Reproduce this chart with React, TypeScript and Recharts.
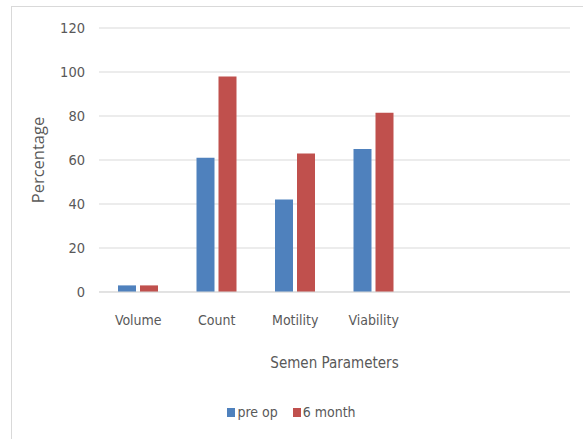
import React from 'react';
import { BarChart, Bar, XAxis, YAxis, CartesianGrid, Legend, Label } from 'recharts';

// Semen parameter categories (the last two slots are intentionally empty)
const categories = ['Volume', 'Count', 'Motility', 'Viability', '', ''];
const preOp = [3, 61, 42, 65, null, null];
const sixMonth = [3, 98, 63, 81.5, null, null];
const yTicks = [0, 20, 40, 60, 80, 100, 120];

const data = categories.map((name, i) => ({
  name,
  preOp: preOp[i],
  sixMonth: sixMonth[i],
}));

const BLUE = '#4F81BD';
const RED = '#C0504D';
const TEXT = '#595959';
const NARROW = '"Liberation Sans Narrow", "DejaVu Sans Condensed", "Open Sans", sans-serif';

const legendItems = [
  { label: 'pre op', color: BLUE },
  { label: '6 month', color: RED },
];

const LegendContent = () => (
  <div
    style={{
      display: 'flex',
      justifyContent: 'center',
      alignItems: 'center',
      fontFamily: NARROW,
      fontSize: 14,
      color: TEXT,
      paddingLeft: 0,
    }}
  >
    {legendItems.map((it, i) => (
      <span
        key={it.label}
        style={{ display: 'inline-flex', alignItems: 'center', marginLeft: i === 0 ? 0 : 15 }}
      >
        <span
          style={{ display: 'inline-block', width: 8, height: 9, background: it.color, marginRight: 2 }}
        />
        {it.label}
      </span>
    ))}
  </div>
);

const YLabel = (props: any) => {
  const vb = props.viewBox || {};
  const cx = 37;
  const cy = vb.y + vb.height / 2;
  return (
    <text
      x={cx}
      y={cy}
      transform={`rotate(-90, ${cx}, ${cy})`}
      textAnchor="middle"
      dominantBaseline="central"
      fill={TEXT}
      fontSize={16.5}
      fontFamily='"Open Sans", "DejaVu Sans", sans-serif'
    >
      Percentage
    </text>
  );
};

export default function App() {
  return (
    <div style={{ position: 'absolute', left: 0, top: 0, width: 583, height: 439, background: '#fff' }}>
      <div
        style={{
          position: 'absolute',
          left: 11,
          top: 6,
          width: 572,
          height: 433,
          borderTop: '1px solid #d9d9d9',
          borderLeft: '1px solid #d9d9d9',
          boxSizing: 'border-box',
        }}
      />
      <BarChart
        width={583}
        height={439}
        data={data}
        margin={{ top: 28, right: 13, bottom: 69, left: 39 }}
        barSize={18}
        barGap={4}
        style={{ position: 'absolute', left: 0, top: 0 }}
      >
        <CartesianGrid vertical={false} stroke="#d9d9d9" strokeWidth={1} />
        <XAxis
          dataKey="name"
          height={78}
          tickLine={false}
          tickSize={0}
          tickMargin={23}
          axisLine={{ stroke: '#d9d9d9' }}
          tick={{ fill: TEXT, fontSize: 14, fontFamily: NARROW }}
          interval={0}
        >
          <Label
            value="Semen Parameters"
            position="insideBottom"
            offset={2}
            style={{ fill: TEXT, fontSize: 15, fontFamily: NARROW }}
          />
        </XAxis>
        <YAxis
          width={60}
          domain={[0, 120]}
          ticks={yTicks}
          axisLine={false}
          tickLine={false}
          tickSize={0}
          tickMargin={14}
          tick={{ fill: TEXT, fontSize: 14.5, fontFamily: NARROW }}
          label={<YLabel />}
        />
        <Legend
          verticalAlign="middle"
          align="center"
          content={<LegendContent />}
          wrapperStyle={{ top: 404, left: 0, width: 583 }}
        />
        <Bar dataKey="preOp" name="pre op" fill={BLUE} isAnimationActive={false} />
        <Bar dataKey="sixMonth" name="6 month" fill={RED} isAnimationActive={false} />
      </BarChart>
    </div>
  );
}
